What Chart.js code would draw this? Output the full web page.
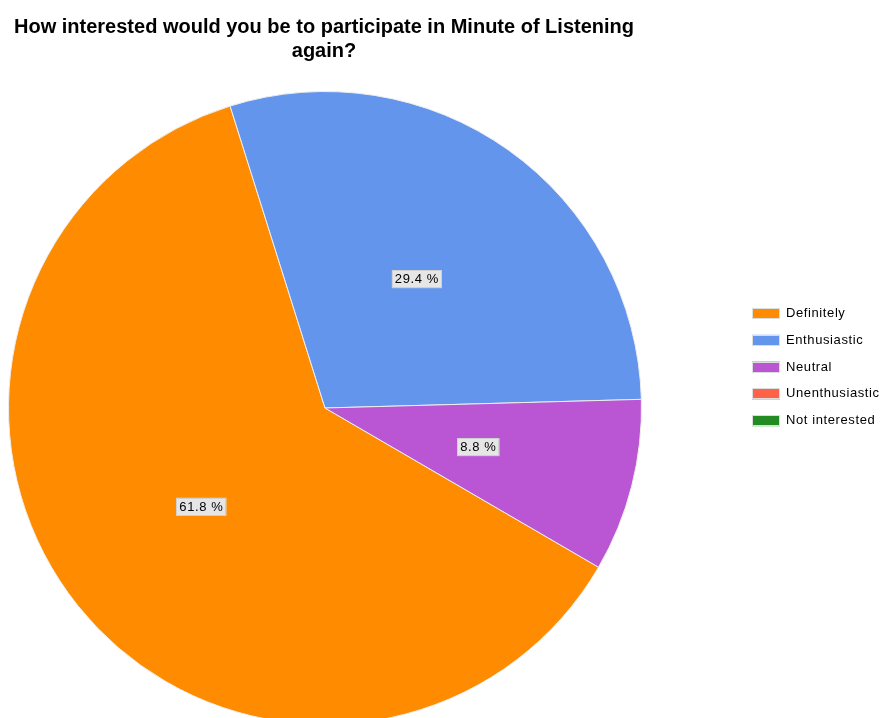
<!DOCTYPE html>
<html lang="en">
<head>
    <meta charset="UTF-8">
    <title>Minute of Listening</title>
    <script src="https://cdn.jsdelivr.net/npm/chart.js"></script>
    <style>
        html, body { margin: 0; padding: 0; background: #fff; overflow: hidden; }
        #wrap { position: relative; width: 881px; height: 718px; overflow: hidden; }
    </style>
</head>
<body>
    <div id="wrap">
        <canvas id="pieChart" width="881" height="740"></canvas>
    </div>

    <script>
        const titleLines = ['How interested would you be to participate in Minute of Listening', 'again?'];
        const categories = ['Definitely', 'Enthusiastic', 'Neutral', 'Unenthusiastic', 'Not interested'];
        const responses = [21, 10, 3, 0, 0];
        const sliceColors = ['#FF8C00', '#6495ED', '#BA55D3', '#FF6347', '#228B22'];

        const font = '"Liberation Sans", Arial, sans-serif';

        // title, slice labels and legend drawn by hand
        const decorations = {
            id: 'decorations',
            afterDraw(chart) {
                const ctx = chart.ctx;
                ctx.save();
                ctx.fillStyle = '#000';
                ctx.font = 'bold 20px ' + font;
                ctx.textAlign = 'center';
                ctx.textBaseline = 'middle';
                ctx.fillText(titleLines[0], 324, 27);
                ctx.fillText(titleLines[1], 324, 51);

                const meta = chart.getDatasetMeta(0);
                const total = responses.reduce((a, b) => a + b, 0);
                ctx.font = '13px ' + font;
                ctx.letterSpacing = '0.6px';
                meta.data.forEach((arc, i) => {
                    if (!responses[i]) return;
                    const pos = arc.tooltipPosition();
                    const txt = (responses[i] / total * 100).toFixed(1) + ' %';
                    const w = ctx.measureText(txt).width + 6;
                    const h = 18;
                    ctx.fillStyle = '#e6e6e6';
                    ctx.fillRect(pos.x - w / 2, pos.y - h / 2, w, h);
                    ctx.strokeStyle = '#d0d0d0';
                    ctx.lineWidth = 1;
                    ctx.strokeRect(Math.round(pos.x - w / 2) + 0.5, Math.round(pos.y - h / 2) + 0.5, Math.round(w) - 1, h - 1);
                    ctx.fillStyle = '#000';
                    ctx.fillText(txt, pos.x, pos.y + 0.5);
                });

                ctx.textAlign = 'left';
                categories.forEach((c, i) => {
                    const y = 313 + i * 26.8;
                    ctx.fillStyle = sliceColors[i];
                    ctx.fillRect(752, y - 5, 28, 11);
                    ctx.strokeStyle = '#dddddd';
                    ctx.strokeRect(752.5, Math.round(y - 5) + 0.5, 27, 10);
                    ctx.fillStyle = '#000';
                    ctx.fillText(c, 786, y + 0.5);
                });
                ctx.restore();
            }
        };

        new Chart(document.getElementById('pieChart').getContext('2d'), {
            type: 'pie',
            data: {
                labels: categories,
                datasets: [{
                    data: responses,
                    backgroundColor: sliceColors,
                    borderColor: '#eeeeee',
                    borderWidth: 1
                }]
            },
            options: {
                responsive: false,
                animation: false,
                rotation: 120.2,
                layout: { padding: { left: 8, top: 91, right: 239, bottom: 15 } },
                plugins: {
                    legend: { display: false },
                    tooltip: { enabled: false }
                }
            },
            plugins: [decorations]
        });
    </script>
</body>
</html>
